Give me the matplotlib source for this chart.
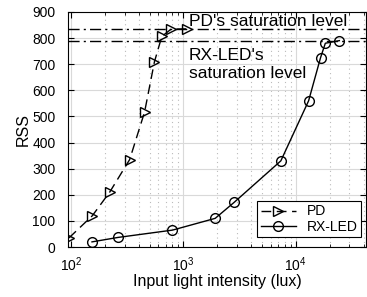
import numpy as np
import matplotlib.pyplot as plt

plt.rcParams['font.family'] = ['Liberation Sans', 'DejaVu Sans']

# PD (photodiode) measurements
pd_lux = [96, 155, 221, 333, 452, 553, 643, 778, 1070]
pd_rss = [35, 120, 210, 335, 517, 709, 806, 834, 835]

# RX-LED measurements
led_lux = [154, 262, 800, 1919, 2825, 7360, 13000, 16600, 18300, 24400]
led_rss = [20, 37, 65, 110, 171, 330, 560, 725, 780, 790]

pd_sat = 834
led_sat = 790

fig = plt.figure(figsize=(3.67, 2.97), dpi=100)
ax = fig.add_axes([0.185, 0.168, 0.812, 0.792])

ax.axhline(pd_sat, color='black', linestyle=(0, (8, 3, 1.5, 3)), linewidth=1.0)
ax.axhline(led_sat, color='black', linestyle=(0, (8, 3, 1.5, 3)), linewidth=1.0)

ax.plot(pd_lux, pd_rss, color='black', linestyle=(0, (7, 4)), linewidth=1.0,
        marker='>', markersize=7, markerfacecolor='none', markeredgewidth=1.0, label='PD')
ax.plot(led_lux, led_rss, color='black', linestyle='-', linewidth=1.0,
        marker='o', markersize=7, markerfacecolor='none', markeredgewidth=1.0, label='RX-LED')

ax.set_xscale('log')
ax.set_xlim(94, 42000)
ax.set_ylim(0, 900)
ax.set_yticks(np.arange(0, 901, 100))

ax.grid(True, which='major', color='#d9d9d9', linestyle='-', linewidth=0.8)
ax.grid(True, which='minor', axis='x', color='#bbbbbb', linestyle=(0, (1, 3)), linewidth=0.8)
ax.set_axisbelow(True)
ax.tick_params(which='both', direction='in', top=True, right=True, labelsize=10)
ax.tick_params(which='major', length=4)
ax.tick_params(which='minor', length=2)
ax.tick_params(axis='y', pad=9)
ax.tick_params(axis='x', pad=6)
for s in ax.spines.values():
    s.set_linewidth(0.8)

ax.text(0.515, 0.912, "PD's saturation level", transform=fig.transFigure, fontsize=12.5, va='baseline')
ax.text(0.515, 0.798, "RX-LED's", transform=fig.transFigure, fontsize=12.5, va='baseline')
ax.text(0.515, 0.738, "saturation level", transform=fig.transFigure, fontsize=12.5, va='baseline')

ax.set_xlabel('Input light intensity (lux)', fontsize=11.5, labelpad=0)
ax.set_ylabel('RSS', fontsize=11.5, labelpad=1)

leg = ax.legend(loc='lower right', fontsize=10, frameon=True, fancybox=False,
                edgecolor='black', framealpha=1, borderpad=0.25, handlelength=2.5,
                labelspacing=0.1, bbox_to_anchor=(1.007, 0.012))
leg.get_frame().set_linewidth(0.8)

fig.savefig('out.png', dpi=100)
